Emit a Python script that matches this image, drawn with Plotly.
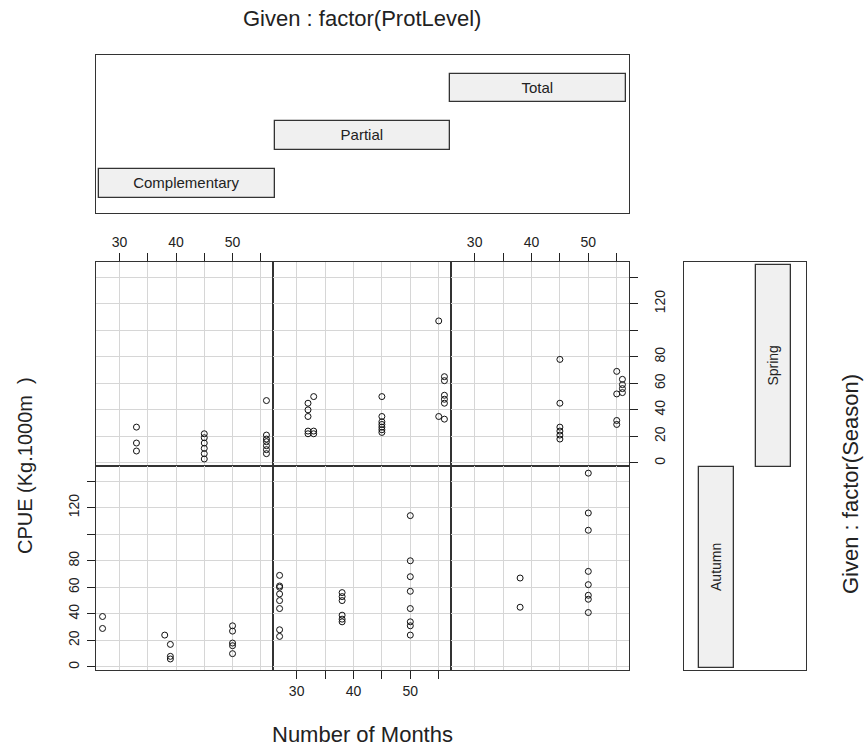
import plotly.graph_objects as go

# CPUE against number of months, split by protection level (columns) and season (rows), like an R coplot

prot_levels = ['Complementary', 'Partial', 'Total']
seasons = ['Autumn', 'Spring']

# Spring (top row)
comp_spring_months = [33, 33, 33, 45, 45, 45, 45, 45, 45, 56, 56, 56, 56, 56, 56, 56]
comp_spring_cpue = [27, 15, 9, 22, 19, 15, 11, 7, 3, 47, 21, 18, 16, 13, 10, 7]

part_spring_months = [32, 32, 32, 32, 32, 33, 33, 33, 45, 45, 45, 45, 45, 45, 45,
                      55, 55, 56, 56, 56, 56, 56, 56]
part_spring_cpue = [45, 40, 35, 24, 22, 50, 24, 22, 50, 35, 31, 29, 27, 25, 23,
                    107, 35, 65, 62, 51, 48, 45, 33]

tot_spring_months = [45, 45, 45, 45, 45, 45, 55, 55, 55, 55, 56, 56, 56, 56]
tot_spring_cpue = [78, 45, 27, 24, 21, 18, 69, 52, 32, 29, 63, 59, 56, 53]

# Autumn (bottom row)
comp_autumn_months = [27, 27, 38, 39, 39, 39, 50, 50, 50, 50, 50]
comp_autumn_cpue = [38, 29, 24, 17, 8, 6, 31, 27, 18, 16, 10]

part_autumn_months = [27, 27, 27, 27, 27, 27, 27, 27, 38, 38, 38, 38, 38, 38,
                      50, 50, 50, 50, 50, 50, 50, 50]
part_autumn_cpue = [69, 61, 60, 55, 50, 44, 28, 23, 56, 53, 50, 39, 36, 34,
                    114, 80, 68, 57, 44, 34, 31, 24]

tot_autumn_months = [38, 38, 50, 50, 50, 50, 50, 50, 50, 50]
tot_autumn_cpue = [67, 45, 146, 116, 103, 72, 62, 54, 51, 41]

month_ticks = [30, 35, 40, 45, 50, 55]
month_labels = ['30', '', '40', '', '50', '']
cpue_ticks = [0, 20, 40, 60, 80, 100, 120, 140]
cpue_labels = ['0', '20', '40', '60', '80', '', '120', '']

FONT = 'Liberation Sans, Arial, sans-serif'
INK = '#222222'
W, H = 866, 746


def fx(p):
    return p / W


def fy(p):
    return 1 - p / H


col_edges = [96, 273, 451, 629]
row_edges = [(262, 466), (466, 670)]

panels = [
    (0, 0, comp_spring_months, comp_spring_cpue),
    (0, 1, part_spring_months, part_spring_cpue),
    (0, 2, tot_spring_months, tot_spring_cpue),
    (1, 0, comp_autumn_months, comp_autumn_cpue),
    (1, 1, part_autumn_months, part_autumn_cpue),
    (1, 2, tot_autumn_months, tot_autumn_cpue),
]

fig = go.Figure()
axes = {}

for i, (row, col, months, cpue) in enumerate(panels):
    sfx = '' if i == 0 else str(i + 1)
    fig.add_trace(go.Scatter(
        x=months, y=cpue, mode='markers', xaxis='x' + sfx, yaxis='y' + sfx,
        marker=dict(symbol='circle-open', size=6, color='#111111', line=dict(width=1)),
        showlegend=False, hoverinfo='x+y'))

    x_top = row == 0 and col in (0, 2)
    x_bot = row == 1 and col == 1
    y_left = row == 1 and col == 0
    y_right = row == 0 and col == 2
    top, bot = row_edges[row]

    axes['xaxis' + sfx] = dict(
        domain=[fx(col_edges[col]), fx(col_edges[col + 1])], anchor='y' + sfx,
        range=[25.84, 57.16], tickvals=month_ticks, ticktext=month_labels,
        side='top' if x_top else 'bottom',
        ticks='outside' if (x_top or x_bot) else '', ticklen=8, tickcolor=INK,
        showticklabels=x_top or x_bot, tickfont=dict(size=14, color=INK),
        showgrid=True, gridcolor='#d6d6d6', gridwidth=1, zeroline=False,
        showline=True, mirror=True, linecolor='#333333', linewidth=1)
    axes['yaxis' + sfx] = dict(
        domain=[fy(bot), fy(top)], anchor='x' + sfx,
        range=[-2.3, 151.4], tickvals=cpue_ticks, ticktext=cpue_labels,
        side='right' if y_right else 'left',
        ticks='outside' if (y_left or y_right) else '', ticklen=8, tickcolor=INK,
        showticklabels=y_left or y_right, tickangle=-90,
        ticklabelstandoff=10 if y_right else 2,
        tickfont=dict(size=14, color=INK),
        showgrid=True, gridcolor='#d6d6d6', gridwidth=1, zeroline=False,
        showline=True, mirror=True, linecolor='#333333', linewidth=1)

# given panel for ProtLevel (top)
fig.add_trace(go.Bar(
    y=[1, 2, 3], x=[1, 1, 1], base=[0.5, 1.5, 2.5], orientation='h', width=0.6,
    text=prot_levels, textposition='inside', insidetextanchor='middle',
    constraintext='none', textfont=dict(size=15, color=INK, family=FONT),
    marker=dict(color='#f0f0f0', line=dict(color='#333333', width=1.3)),
    xaxis='x7', yaxis='y7', showlegend=False, hoverinfo='text'))

# given panel for Season (right)
fig.add_trace(go.Bar(
    x=[1, 2], y=[1, 1], base=[0.5, 1.5], width=0.6,
    text=seasons, textposition='inside', insidetextanchor='middle', textangle=-90,
    constraintext='none', textfont=dict(size=14, color=INK, family=FONT),
    marker=dict(color='#f0f0f0', line=dict(color='#333333', width=1.3)),
    xaxis='x8', yaxis='y8', showlegend=False, hoverinfo='text'))

given_axis = dict(showgrid=False, zeroline=False, showticklabels=False, ticks='',
                  showline=True, mirror=True, linecolor='#333333', linewidth=1)
axes['xaxis7'] = dict(given_axis, domain=[fx(96), fx(629)], anchor='y7', range=[0.483, 3.517])
axes['yaxis7'] = dict(given_axis, domain=[fy(213), fy(55)], anchor='x7', range=[0.38, 3.69])
axes['xaxis8'] = dict(given_axis, domain=[fx(684), fx(806)], anchor='y8', range=[0.43, 2.57])
axes['yaxis8'] = dict(given_axis, domain=[fy(670), fy(262)], anchor='x8', range=[0.49, 2.515])

fig.update_layout(**axes)

annots = [
    dict(text='Given : factor(ProtLevel)', x=fx(362), y=fy(18), size=22, angle=0),
    dict(text='Given : factor(Season)', x=fx(850), y=fy(484), size=22, angle=-90),
    dict(text='CPUE (Kg.1000m\u00a0 )', x=fx(25), y=fy(466), size=20, angle=-90),
    dict(text='Number of Months', x=fx(362), y=fy(734), size=22, angle=0),
]
for a in annots:
    fig.add_annotation(text=a['text'], x=a['x'], y=a['y'], xref='paper', yref='paper',
                       showarrow=False, textangle=a['angle'], xanchor='center', yanchor='middle',
                       font=dict(size=a['size'], color=INK, family=FONT))

fig.update_layout(
    width=W, height=H,
    margin=dict(l=0, r=0, t=0, b=0),
    paper_bgcolor='white', plot_bgcolor='white',
    font=dict(family=FONT, color=INK),
    bargap=0,
)

fig.write_html('out.html', config={'displayModeBar': False},
               post_script="document.body.style.margin='0';")
